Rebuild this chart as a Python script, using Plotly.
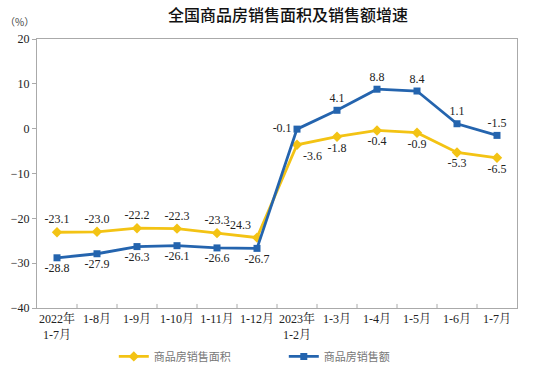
import plotly.graph_objects as go

categories = ["2022年<br>1-7月", "1-8月", "1-9月", "1-10月", "1-11月", "1-12月",
              "2023年<br>1-2月", "1-3月", "1-4月", "1-5月", "1-6月", "1-7月"]
area_growth = [-23.1, -23.0, -22.2, -22.3, -23.3, -24.3, -3.6, -1.8, -0.4, -0.9, -5.3, -6.5]
sales_growth = [-28.8, -27.9, -26.3, -26.1, -26.6, -26.7, -0.1, 4.1, 8.8, 8.4, 1.1, -1.5]
y_ticks = [20, 10, 0, -10, -20, -30, -40]

yellow = "#F3C314"
blue = "#2464AE"
serif = "Liberation Serif, Times New Roman, serif"

area_pos = ["top center"] * 5 + ["top left", "bottom right", "bottom center", "bottom center", "bottom center", "bottom center", "bottom center"]
sales_pos = ["bottom center"] * 6 + ["middle left", "top center", "top center", "top center", "top center", "top center"]

x = list(range(len(categories)))

fig = go.Figure()
fig.add_trace(go.Scatter(
    x=x, y=area_growth, name="商品房销售面积", mode="lines+markers+text",
    line=dict(color=yellow, width=2.8), marker=dict(symbol="diamond", size=8, color=yellow),
    text=[f"{v:.1f}" for v in area_growth], textposition=area_pos,
    textfont=dict(family=serif, size=12, color="#222"), cliponaxis=False))
fig.add_trace(go.Scatter(
    x=x, y=sales_growth, name="商品房销售额", mode="lines+markers+text",
    line=dict(color=blue, width=2.8), marker=dict(symbol="square", size=7, color=blue),
    text=[f"{v:.1f}" for v in sales_growth], textposition=sales_pos,
    textfont=dict(family=serif, size=12, color="#222"), cliponaxis=False))

fig.update_layout(
    width=543, height=366, plot_bgcolor="white", paper_bgcolor="white",
    margin=dict(l=37, r=26, t=39, b=58, autoexpand=False),
    title=dict(text="全国商品房销售面积及销售额增速", x=288 / 543, xanchor="center", y=1 - 15 / 366, yanchor="middle",
               font=dict(family="Noto Sans CJK SC", size=16, color="#111", weight=500)),
    showlegend=True,
    legend=dict(orientation="h", x=0.16, xanchor="left", y=-0.18, yanchor="middle",
                font=dict(family="Noto Sans CJK SC", size=11, color="#777"),
                bgcolor="rgba(0,0,0,0)", traceorder="normal", entrywidth=125, entrywidthmode="pixels",
                itemwidth=30),
    font=dict(family=serif, size=12, color="#222"),
)
fig.update_xaxes(
    tickmode="array", tickvals=x, ticktext=categories, range=[-0.5, 11.5],
    showline=True, linecolor="#aaa", mirror=True, ticks="", showgrid=False, zeroline=False,
    tickfont=dict(family="Liberation Serif, Noto Serif CJK SC, Noto Sans CJK SC", size=12, color="#222"))
fig.update_yaxes(
    range=[-40, 20], tickvals=y_ticks, showline=True, linecolor="#aaa", mirror=True,
    ticks="outside", ticklen=4, tickcolor="#aaa", showgrid=False, zeroline=False,
    tickfont=dict(family=serif, size=12, color="#222"))

# category boundary tick marks on the bottom axis (inside)
for b in [i + 0.5 for i in range(11)]:
    fig.add_shape(type="line", xref="x", yref="paper", x0=b, x1=b, y0=0, y1=0.015,
                  line=dict(color="#aaa", width=1))

fig.add_annotation(text="（%）", xref="paper", yref="paper", x=-0.07, y=1.065, showarrow=False,
                   font=dict(family="Noto Sans CJK SC", size=10, color="#444"), xanchor="left", yanchor="middle")

fig.write_html("out.html", config={"displayModeBar": False},
               post_script="document.body.style.margin='0px';document.body.style.overflow='hidden';")
